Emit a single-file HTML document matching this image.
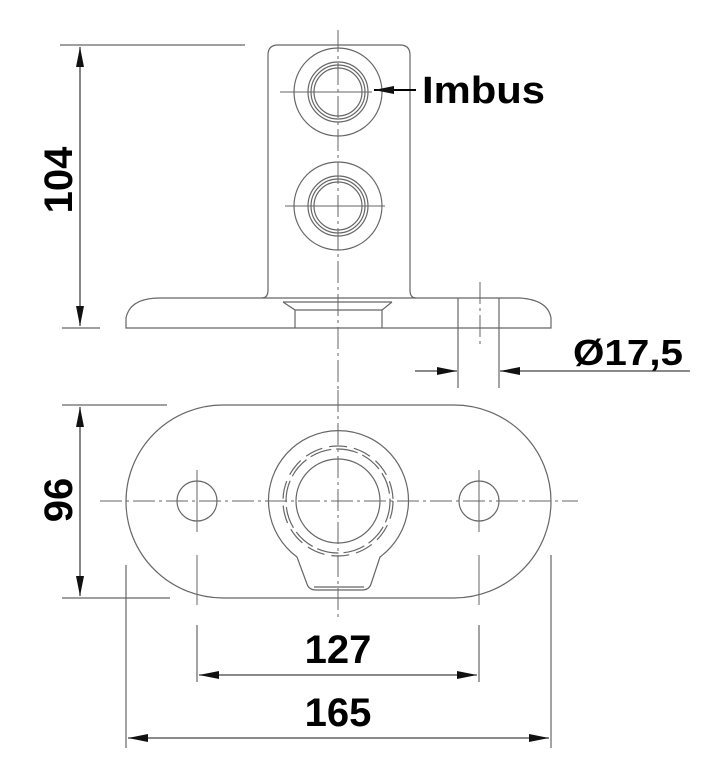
<!DOCTYPE html>
<html><head><meta charset="utf-8"><style>
html,body{margin:0;padding:0;background:#fff;}
svg{display:block;}
text{font-family:"Liberation Sans",sans-serif;font-weight:bold;fill:#000;}
</style></head><body>
<svg width="708" height="773" viewBox="0 0 708 773" xmlns="http://www.w3.org/2000/svg">
<defs>
<marker id="a" viewBox="0 0 20 8" refX="20" refY="4" markerWidth="20" markerHeight="8" markerUnits="userSpaceOnUse" orient="auto-start-reverse"><path d="M0,0 L20,4 L0,8 z" fill="#111"/></marker>
</defs>
<g fill="none" stroke="#666" stroke-width="1.2">
<path d="M262,298 Q268,298 268,290 L268,55 Q268,45 278,45 L400,45 Q410,45 410,55 L410,290 Q410,298 416,298"/>
<path d="M126,328 L126,318 Q130,298 160,298 L520,298 Q548,300 551,318 L551,328 Z"/>
<path d="M283,302 L392,302 M283,302 L295,310 L295,328 M392,302 L382,310 L382,328 M295,310 L382,310"/>
<line x1="458" y1="298" x2="458" y2="388"/>
<line x1="499" y1="298" x2="499" y2="388"/>
<circle cx="338" cy="92" r="44"/><circle cx="338" cy="92" r="30"/><circle cx="338" cy="92" r="27"/><circle cx="338" cy="92" r="24"/>
<circle cx="338" cy="206" r="44"/><circle cx="338" cy="206" r="30"/><circle cx="338" cy="206" r="27"/><circle cx="338" cy="206" r="24"/>
<rect x="126" y="405" width="425" height="193" rx="97" ry="97"/>
<circle cx="197" cy="501" r="20"/><circle cx="479" cy="501" r="20"/>
<path d="M297,557 A70,70 0 1 1 380,557 L371,584 Q369,590 362,590 L316,590 Q309,590 307,584 Z"/>
<line x1="314" y1="587" x2="364" y2="587"/>
<circle cx="338" cy="501" r="42"/>
<circle cx="338" cy="501" r="52" stroke-dasharray="22,5"/>
<circle cx="338" cy="501" r="55" stroke-dasharray="18,7"/>
<line x1="60" y1="45" x2="245" y2="45"/>
<line x1="62" y1="328" x2="100" y2="328"/>
<line x1="62" y1="405" x2="167" y2="405"/>
<line x1="62" y1="598" x2="170" y2="598"/>
<line x1="126" y1="565" x2="126" y2="748"/>
<line x1="551" y1="555" x2="551" y2="748"/>
<line x1="197" y1="625" x2="197" y2="682"/>
<line x1="479" y1="625" x2="479" y2="682"/>
</g>
<g fill="none" stroke="#666" stroke-width="1" stroke-dasharray="22,4,3,4">
<line x1="338" y1="30" x2="338" y2="390"/>
<line x1="338" y1="390" x2="338" y2="620"/>
<line x1="100" y1="501" x2="578" y2="501"/>
<line x1="480" y1="282" x2="480" y2="348"/>
</g>
<g stroke="#666" stroke-width="1">
<line x1="280" y1="92" x2="372" y2="92"/>
<line x1="285" y1="206" x2="385" y2="206"/>
<line x1="197" y1="470" x2="197" y2="532"/>
<line x1="479" y1="470" x2="479" y2="532"/>
<line x1="197" y1="555" x2="197" y2="605"/>
<line x1="479" y1="555" x2="479" y2="605"/>
</g>
<g stroke="#444" stroke-width="1.3" fill="none">
<line x1="80" y1="47" x2="80" y2="326" marker-start="url(#a)" marker-end="url(#a)"/>
<line x1="80" y1="407" x2="80" y2="596" marker-start="url(#a)" marker-end="url(#a)"/>
<line x1="199" y1="675" x2="477" y2="675" marker-start="url(#a)" marker-end="url(#a)"/>
<line x1="128" y1="738" x2="549" y2="738" marker-start="url(#a)" marker-end="url(#a)"/>
<line x1="415" y1="371" x2="457" y2="371" marker-end="url(#a)"/>
<line x1="690" y1="371" x2="500" y2="371" marker-end="url(#a)"/>
<line x1="416" y1="90" x2="374" y2="90" stroke="#000" stroke-width="2" marker-end="url(#a)"/>
</g>
<text x="422" y="103" font-size="38" textLength="123" lengthAdjust="spacingAndGlyphs">Imbus</text>
<text x="573" y="365" font-size="36" textLength="110" lengthAdjust="spacingAndGlyphs">Ø17,5</text>
<text x="338" y="663" font-size="40" text-anchor="middle">127</text>
<text x="338" y="726" font-size="40" text-anchor="middle">165</text>
<text transform="translate(72,180) rotate(-90)" font-size="40" text-anchor="middle">104</text>
<text transform="translate(72,500) rotate(-90)" font-size="40" text-anchor="middle">96</text>
</svg>
</body></html>
